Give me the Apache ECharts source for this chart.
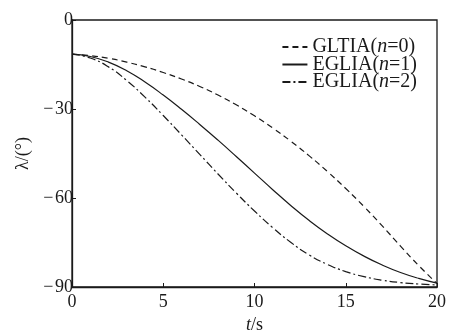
<!DOCTYPE html>
<html>
<head>
<meta charset="utf-8">
<script src="https://cdn.jsdelivr.net/npm/echarts@6/dist/echarts.min.js"></script>
<style>
  html, body { margin: 0; padding: 0; background: #fff; }
  #chart { width: 450px; height: 331px; }
</style>
</head>
<body>
<div id="chart"></div>
<script>
// time axis, s
const times = [0, 1, 2, 3, 4, 5, 6, 7, 8, 9, 10, 11, 12, 13, 14, 15, 16, 17, 18, 19, 20];
// lambda in degrees
const gltia0 = [-11.5, -12, -12.9, -14.2, -15.8, -17.7, -19.9, -22.4, -25.3, -28.6, -32.3, -36.4, -40.9, -45.8, -51.1, -56.8, -62.9, -69.4, -76.2, -82.8, -88.8];
const eglia1 = [-11.5, -12.3, -14.2, -17.1, -20.9, -25.3, -30.1, -35.2, -40.5, -46, -51.6, -57.2, -62.6, -67.6, -72.1, -76.1, -79.6, -82.6, -85.1, -87.1, -88.7];
const eglia2 = [-11.5, -12.8, -15.8, -20.4, -26, -32.2, -38.7, -45.3, -51.9, -58.3, -64.4, -70, -75, -79.2, -82.4, -84.8, -86.5, -87.7, -88.5, -89, -89.3];
const legendNames = ['GLTIA(n=0)', 'EGLIA(n=1)', 'EGLIA(n=2)'];

const font = 'Liberation Serif';
const ink = '#1a1a1a';

const pairs = (ys) => times.map((t, i) => [t, ys[i]]);

const chart = echarts.init(document.getElementById('chart'));

function mkSeries(name, ys, type) {
  return {
    name,
    type: 'line',
    data: pairs(ys),
    smooth: true,
    showSymbol: false,
    symbol: 'none',
    lineStyle: { color: ink, width: 1.2, type },
    itemStyle: { color: ink },
    animation: false
  };
}

const richText = (size, lh) => ({
  a: { fontFamily: font, fontSize: size, color: ink, lineHeight: lh },
  i: { fontFamily: font, fontSize: size, color: ink, fontStyle: 'italic', lineHeight: lh }
});

const option = {
  backgroundColor: '#fff',
  animation: false,
  grid: {
    left: 72,
    right: 13,
    top: 20,
    bottom: 44,
    outerBoundsMode: 'none',
    show: true,
    borderColor: ink,
    borderWidth: 1.3
  },
  legend: {
    orient: 'vertical',
    right: 33,
    top: 37,
    padding: 0,
    itemWidth: 25,
    itemHeight: 10,
    itemGap: -2.5,
    itemStyle: { opacity: 0 },
    data: legendNames,
    formatter: (name) => {
      const m = name.match(/^(.*\()n(=.*)$/);
      return '{a|' + m[1] + '}{i|n}{a|' + m[2] + '}';
    },
    textStyle: {
      color: ink,
      fontFamily: font,
      fontSize: 20,
      lineHeight: 17.5,
      rich: richText(20, 17.5)
    }
  },
  xAxis: {
    type: 'value',
    min: 0,
    max: 20,
    interval: 5,
    name: '{i|t}{a|/s}',
    nameLocation: 'middle',
    nameGap: 24,
    nameTextStyle: { rich: richText(18, 20) },
    axisLine: { onZero: false, lineStyle: { color: ink, width: 1.3 } },
    axisTick: { inside: true, length: 4, lineStyle: { color: ink } },
    axisLabel: { color: ink, fontFamily: font, fontSize: 18, margin: 6 },
    splitLine: { show: false }
  },
  yAxis: {
    type: 'value',
    min: -90,
    max: 0,
    interval: 30,
    name: 'λ/(°)',
    nameLocation: 'middle',
    nameGap: 32,
    nameRotate: 90,
    nameTextStyle: { color: ink, fontFamily: font, fontSize: 18 },
    axisLine: { onZero: false, lineStyle: { color: ink, width: 1.3 } },
    axisTick: { inside: true, length: 4, lineStyle: { color: ink } },
    axisLabel: {
      color: ink,
      fontFamily: font,
      fontSize: 18,
      margin: -1,
      formatter: (v) => (v < 0 ? '\u2212\u200a' + Math.abs(v) : String(v))
    },
    splitLine: { show: false }
  },
  series: [
    mkSeries(legendNames[0], gltia0, [6, 4]),
    mkSeries(legendNames[1], eglia1, 'solid'),
    mkSeries(legendNames[2], eglia2, [8, 3, 2, 3])
  ]
};

chart.setOption(option);
</script>
</body>
</html>
